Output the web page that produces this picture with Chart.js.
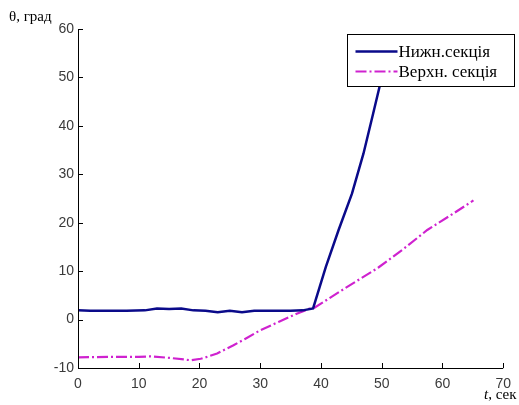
<!DOCTYPE html>
<html>
<head>
<meta charset="utf-8">
<script src="https://cdn.jsdelivr.net/npm/chart.js@4.4.1/dist/chart.umd.min.js"></script>
<style>
  html, body { margin: 0; padding: 0; background: #fff; }
  #wrap { position: relative; width: 519px; height: 405px; }
</style>
</head>
<body>
<div id="wrap"><canvas id="angleChart" width="519" height="405"></canvas></div>
<script>
// lower section angle, degrees
const lowerTime  = [0, 2, 5, 8, 11, 13, 15, 17, 19, 21, 23, 25, 27, 29, 31, 33, 35, 37, 38.7, 40.8, 42.9, 45.1, 47, 48.6, 49.7, 51.2];
const lowerAngle = [1.9, 1.8, 1.8, 1.8, 1.9, 2.3, 2.2, 2.3, 1.9, 1.8, 1.5, 1.8, 1.5, 1.8, 1.8, 1.8, 1.8, 1.9, 2.3, 10.9, 18.5, 26, 34.3, 42.6, 48.4, 56.5];
// upper section angle, degrees
const upperTime  = [0, 5, 10, 12, 15, 18.6, 20.2, 21.5, 22.9, 24.3, 25.6, 27.5, 30, 33, 36, 38, 39, 44, 49.4, 53.7, 57.5, 61.3, 65.1];
const upperAngle = [-7.8, -7.7, -7.7, -7.6, -7.9, -8.4, -8.1, -7.6, -7.0, -6.1, -5.3, -4.0, -2.2, -0.5, 1.2, 2.2, 2.5, 6.5, 10.7, 14.7, 18.5, 21.5, 24.6];

const seriesLabels = ['Нижн.секція', 'Верхн. секція'];
const xTicks = [0, 10, 20, 30, 40, 50, 60, 70];
const yTicks = [-10, 0, 10, 20, 30, 40, 50, 60];

const toPoints = (xs, ys) => xs.map((x, i) => ({ x: x, y: ys[i] }));

const NAVY = '#0a0a8a';
const MAGENTA = '#cf22cf';
const DASH_DOT = [11, 3, 2, 3];

// inward tick marks on the left and bottom axes, plus axis captions
const inwardTicks = {
    id: 'inwardTicks',
    afterDraw(chart) {
        const ctx = chart.ctx;
        const a = chart.chartArea;
        const xs = chart.scales.x, ys = chart.scales.y;
        ctx.save();
        ctx.strokeStyle = '#000';
        ctx.lineWidth = 1;
        ctx.beginPath();
        ctx.moveTo(a.left + 0.5, a.top);
        ctx.lineTo(a.left + 0.5, a.bottom + 0.5);
        ctx.lineTo(a.right, a.bottom + 0.5);
        xTicks.forEach(v => {
            const px = Math.round(xs.getPixelForValue(v)) + 0.5;
            ctx.moveTo(px, a.bottom);
            ctx.lineTo(px, a.bottom - 5);
        });
        yTicks.forEach(v => {
            const py = Math.round(ys.getPixelForValue(v)) + 0.5;
            ctx.moveTo(a.left, py);
            ctx.lineTo(a.left + 5, py);
        });
        ctx.stroke();

        ctx.fillStyle = '#000';
        ctx.textBaseline = 'alphabetic';
        ctx.textAlign = 'left';
        ctx.font = '15px "Liberation Serif"';
        ctx.fillText('θ, град', 9, 21);
        ctx.font = 'italic 15px "Liberation Serif"';
        const tx = 484;
        ctx.fillText('t', tx, 399);
        const tw = ctx.measureText('t').width;
        ctx.font = '15px "Liberation Serif"';
        ctx.fillText(', сек', tx + tw, 399);
        ctx.restore();
    }
};

// boxed legend with line samples, drawn over the data
const boxLegend = {
    id: 'boxLegend',
    afterDraw(chart) {
        const ctx = chart.ctx;
        const box = { x: 347.5, y: 34.5, w: 167, h: 52 };
        ctx.save();
        ctx.fillStyle = '#ffffff';
        ctx.fillRect(box.x, box.y, box.w, box.h);
        ctx.strokeStyle = '#000';
        ctx.lineWidth = 1;
        ctx.strokeRect(box.x, box.y, box.w, box.h);
        ctx.font = '17px "Liberation Serif"';
        ctx.textBaseline = 'middle';
        chart.data.datasets.forEach((ds, i) => {
            const y = box.y + 17 + i * 20;
            ctx.strokeStyle = ds.borderColor;
            ctx.lineWidth = ds.borderWidth;
            ctx.setLineDash(ds.borderDash || []);
            ctx.beginPath();
            ctx.moveTo(box.x + 8, y);
            ctx.lineTo(box.x + 50, y);
            ctx.stroke();
            ctx.setLineDash([]);
            ctx.fillStyle = '#000';
            ctx.fillText(ds.label, box.x + 51, y + 1);
        });
        ctx.restore();
    }
};

new Chart(document.getElementById('angleChart'), {
    type: 'line',
    data: {
        datasets: [
            {
                label: seriesLabels[0],
                data: toPoints(lowerTime, lowerAngle),
                borderColor: NAVY,
                borderWidth: 2.5,
                pointRadius: 0,
                tension: 0,
                fill: false
            },
            {
                label: seriesLabels[1],
                data: toPoints(upperTime, upperAngle),
                borderColor: MAGENTA,
                borderWidth: 2.2,
                borderDash: DASH_DOT,
                pointRadius: 0,
                tension: 0,
                fill: false
            }
        ]
    },
    options: {
        responsive: false,
        animation: false,
        layout: { padding: { top: 29, right: 8, left: 0, bottom: 0 } },
        plugins: {
            legend: { display: false },
            tooltip: { enabled: false }
        },
        scales: {
            x: {
                type: 'linear',
                min: 0,
                max: 70,
                afterBuildTicks: s => { s.ticks = xTicks.map(v => ({ value: v })); },
                afterFit: s => { s.height = 37; },
                border: { display: false },
                grid: { display: false, drawTicks: false },
                ticks: {
                    padding: 8,
                    color: '#3a3a3a',
                    font: { family: '"Liberation Sans"', size: 14 }
                }
            },
            y: {
                min: -10,
                max: 60,
                afterBuildTicks: s => { s.ticks = yTicks.map(v => ({ value: v })); },
                afterFit: s => { s.width = 78; },
                border: { display: false },
                grid: { display: false, drawTicks: false },
                ticks: {
                    padding: 4,
                    color: '#3a3a3a',
                    font: { family: '"Liberation Sans"', size: 14 }
                }
            }
        }
    },
    plugins: [inwardTicks, boxLegend]
});
</script>
</body>
</html>
